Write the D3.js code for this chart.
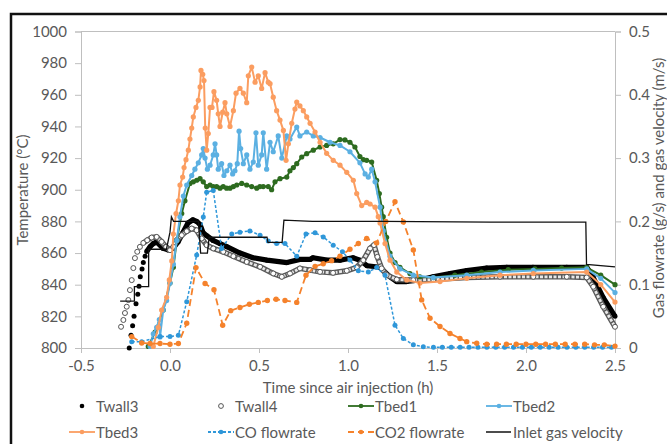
<!DOCTYPE html>
<html><head><meta charset="utf-8">
<script src="https://cdn.jsdelivr.net/npm/d3@7"></script>
<style>
body{margin:0;background:#fff}
svg text{font-family:Lato,"Open Sans",sans-serif;fill:#595959}
</style></head><body>
<svg id="chart" width="667" height="444"></svg>
<script>
// Time since air injection (h) vs temperature (°C) / flow (g/s, m/s)
const timeTicks = [-0.5, 0, 0.5, 1, 1.5, 2, 2.5];
const tempTicks = [800, 820, 840, 860, 880, 900, 920, 940, 960, 980, 1000];
const flowTicks = [0, 0.1, 0.2, 0.3, 0.4, 0.5];

const twall3 = [[-0.229,800],[-0.219,808],[-0.210,814],[-0.202,820],[-0.191,828],[-0.181,834],[-0.174,839],[-0.167,845],[-0.157,850],[-0.150,854],[-0.140,858],[-0.131,861],[-0.112,864],[-0.094,866],[-0.075,867],[-0.039,863],[-0.011,862],[0.017,863],[0.045,867],[0.073,873],[0.101,879],[0.129,881],[0.150,880],[0.169,878],[0.185,873],[0.206,871],[0.242,868],[0.281,866],[0.319,864],[0.393,860],[0.466,857],[0.545,855.5],[0.657,854],[0.730,856],[0.787,856],[0.803,857],[0.882,855.5],[0.955,855.5],[1.028,857],[1.067,855.5],[1.107,852],[1.180,851],[1.236,845],[1.274,842],[1.330,842],[1.404,843],[1.478,845],[1.573,847],[1.667,849],[1.779,850.5],[1.892,851],[2.039,851],[2.229,851],[2.341,851],[2.376,845],[2.433,832],[2.5,820]];

const twall4 = [[-0.275,813.4],[-0.262,817.7],[-0.253,822.1],[-0.243,826.1],[-0.234,830.3],[-0.225,836.6],[-0.215,842.9],[-0.206,850.5],[-0.197,856.8],[-0.184,860.8],[-0.169,863.9],[-0.150,866.4],[-0.128,868.1],[-0.103,869.8],[-0.075,870.2],[-0.047,867.1],[-0.022,863.9],[0.0,861.8],[0.019,863.9],[0.038,868.1],[0.066,871.3],[0.094,873.8],[0.122,875.5],[0.150,874.4],[0.178,869.2],[0.206,865],[0.243,862.9],[0.299,860.8],[0.356,858],[0.431,854.4],[0.506,851.3],[0.580,847.1],[0.628,845],[0.674,847.1],[0.730,850.3],[0.787,849.2],[0.843,848.1],[0.916,847.5],[0.993,848.8],[1.049,850.9],[1.086,855.5],[1.124,862.9],[1.146,865],[1.165,857.6],[1.189,850.3],[1.217,846.1],[1.274,843.3],[1.367,842.9],[1.479,843.3],[1.667,844.6],[1.854,845],[2.041,845],[2.229,845],[2.341,844.6],[2.378,838.7],[2.434,826.1],[2.5,813.4]];

const tbed1 = [[-0.122,801],[-0.084,810],[-0.038,824],[0.0,841],[0.019,851],[0.038,868],[0.066,885],[0.084,893],[0.112,904],[0.131,905],[0.150,906],[0.169,907],[0.187,905],[0.206,902],[0.225,903],[0.243,902],[0.262,902],[0.281,901],[0.299,902],[0.318,901],[0.337,901],[0.356,902],[0.375,903],[0.403,904],[0.431,903],[0.459,902],[0.487,901],[0.505,902],[0.524,902],[0.552,902],[0.571,900],[0.590,905],[0.618,907],[0.656,908],[0.674,912],[0.693,914],[0.712,916.5],[0.740,920.7],[0.768,922.8],[0.805,925],[0.843,927],[0.880,928],[0.917,929],[0.955,931.7],[0.983,931.5],[1.011,930],[1.039,927],[1.067,921],[1.086,919],[1.105,918.6],[1.133,917.5],[1.161,906],[1.176,897.6],[1.189,889],[1.198,883],[1.217,870],[1.236,860],[1.264,854],[1.292,851],[1.348,847],[1.404,845],[1.48,844.5],[1.6,846],[1.75,848],[1.9,849.5],[2.05,850],[2.2,850.5],[2.34,851],[2.42,846],[2.5,840]];

const tbed2 = [[-0.112,801],[-0.094,809],[-0.075,813],[-0.060,818],[-0.056,807],[-0.038,824],[-0.019,830],[0.0,841],[0.019,853],[0.038,868],[0.056,883],[0.075,896],[0.094,903],[0.122,909],[0.140,913],[0.159,917],[0.178,922],[0.187,926],[0.197,920],[0.210,913],[0.225,915.5],[0.243,922],[0.253,929],[0.262,922],[0.271,913],[0.290,916.5],[0.303,909],[0.319,912],[0.337,915.5],[0.352,910],[0.365,912],[0.378,916.5],[0.388,937],[0.397,926],[0.412,916.5],[0.431,922],[0.449,913],[0.468,917.5],[0.483,936],[0.496,915.5],[0.515,922],[0.524,936],[0.543,913],[0.562,930],[0.580,924],[0.608,934],[0.628,920],[0.656,934],[0.674,932],[0.712,939.6],[0.730,934],[0.768,936.5],[0.805,934],[0.843,933],[0.899,930],[0.955,928],[1.011,924],[1.067,917],[1.096,910],[1.114,908],[1.133,913],[1.152,905],[1.180,889],[1.198,874],[1.236,858],[1.292,850],[1.367,846],[1.479,844.5],[1.667,846],[1.854,848],[2.041,849],[2.341,850],[2.42,844],[2.5,835]];

const tbed3 = [[-0.094,801],[-0.066,813],[-0.047,824],[-0.019,832],[-0.004,843],[0.010,855],[0.019,872],[0.034,885],[0.047,893],[0.056,903],[0.071,908],[0.079,914],[0.090,919],[0.103,925],[0.112,932],[0.122,939],[0.131,946],[0.146,952],[0.159,956.5],[0.169,965],[0.174,975.4],[0.184,973],[0.191,969],[0.198,939],[0.206,925],[0.215,935.5],[0.225,952],[0.236,952],[0.247,962],[0.262,956.5],[0.271,948],[0.281,940],[0.296,949],[0.309,955],[0.319,948],[0.337,940],[0.356,950],[0.371,961],[0.393,964],[0.412,961],[0.431,955],[0.440,972],[0.459,977.5],[0.478,968],[0.496,972],[0.515,964],[0.534,974],[0.552,968],[0.562,967],[0.580,958.5],[0.599,950],[0.618,944],[0.637,937.5],[0.652,918.6],[0.665,929],[0.684,942],[0.702,951],[0.712,955.4],[0.730,953],[0.749,950],[0.768,946],[0.787,942],[0.815,936.5],[0.843,930],[0.880,923],[0.917,918.6],[0.955,915.5],[0.993,911],[1.030,906],[1.049,897.6],[1.077,890],[1.105,892],[1.124,891],[1.152,889],[1.170,883],[1.180,879],[1.208,866],[1.236,855.5],[1.274,848],[1.330,843],[1.404,841],[1.517,842],[1.667,844],[1.854,846],[2.041,847],[2.341,848],[2.42,840],[2.5,829]];

const coFlow = [[-0.215,0.010],[-0.159,0.010],[-0.056,0.018],[0.0,0.018],[0.047,0.020],[0.094,0.073],[0.150,0.147],[0.187,0.207],[0.206,0.246],[0.243,0.249],[0.290,0.157],[0.347,0.180],[0.393,0.183],[0.449,0.185],[0.506,0.178],[0.552,0.169],[0.599,0.165],[0.646,0.165],[0.712,0.145],[0.764,0.180],[0.815,0.182],[0.861,0.1755],[0.917,0.1625],[0.969,0.152],[1.011,0.139],[1.058,0.122],[1.114,0.120],[1.161,0.127],[1.208,0.115],[1.264,0.036],[1.311,0.015],[1.367,0.005],[1.423,0.002],[1.48,0.001],[1.53,0.001],[1.58,0.001],[1.63,0.001],[1.68,0.001],[1.73,0.001],[1.78,0.001],[1.83,0.001],[1.88,0.001],[1.93,0.001],[1.98,0.001],[2.03,0.001],[2.08,0.001],[2.13,0.001],[2.18,0.001],[2.23,0.001],[2.28,0.001],[2.33,0.001],[2.38,0.001],[2.43,0.001],[2.48,0.001]];

const co2Flow = [[-0.215,0.018],[-0.159,0.008],[-0.112,0.007],[-0.056,0.007],[0.0,0.006],[0.047,0.007],[0.094,0.039],[0.146,0.127],[0.197,0.102],[0.247,0.092],[0.296,0.036],[0.341,0.059],[0.393,0.064],[0.446,0.069],[0.496,0.072],[0.547,0.075],[0.596,0.077],[0.646,0.075],[0.712,0.072],[0.764,0.115],[0.815,0.129],[0.861,0.133],[0.908,0.138],[0.955,0.145],[1.011,0.156],[1.058,0.165],[1.105,0.173],[1.161,0.166],[1.212,0.200],[1.264,0.231],[1.311,0.199],[1.367,0.155],[1.414,0.076],[1.461,0.047],[1.517,0.034],[1.573,0.023],[1.629,0.015],[1.667,0.010],[1.723,0.0075],[1.78,0.006],[1.835,0.006],[1.89,0.006],[1.945,0.006],[2.0,0.006],[2.055,0.006],[2.11,0.006],[2.165,0.006],[2.22,0.006],[2.275,0.006],[2.33,0.006],[2.385,0.005],[2.44,0.005],[2.5,0.003]];

const inletVelocity = [[-0.28,0.074],[-0.20,0.074],[-0.20,0.097],[-0.12,0.097],[-0.12,0.156],[-0.02,0.156],[0.0,0.183],[0.008,0.207],[0.02,0.200],[0.16,0.200],[0.172,0.150],[0.21,0.150],[0.22,0.175],[0.545,0.175],[0.55,0.167],[0.63,0.167],[0.64,0.202],[0.8,0.200],[1.2,0.200],[1.8,0.199],[2.336,0.199],[2.34,0.132],[2.5,0.128]];

const legendItems = [
  {name:"Twall3", kind:"dot", row:0, col:0},
  {name:"Twall4", kind:"ring", row:0, col:1},
  {name:"Tbed1", kind:"tbed1", row:0, col:2},
  {name:"Tbed2", kind:"tbed2", row:0, col:3},
  {name:"Tbed3", kind:"tbed3", row:1, col:0},
  {name:"CO flowrate", kind:"co", row:1, col:1},
  {name:"CO2 flowrate", kind:"co2", row:1, col:2},
  {name:"Inlet gas velocity", kind:"inlet", row:1, col:3}
];

const colors = {tbed1:"#2d6b1f", tbed2:"#5bb0e2", tbed3:"#fb9d60", co:"#2f97d9", co2:"#f5822c"};

const svg = d3.select("#chart");
const x = d3.scaleLinear().domain([-0.5, 2.5]).range([81, 615]);
const yT = d3.scaleLinear().domain([800, 1000]).range([348, 31.5]);
const yF = d3.scaleLinear().domain([0, 0.5]).range([348, 31.5]);
const axisColor = "#bfbfbf";

// outer frame
svg.append("rect").attr("x", 11).attr("y", 14).attr("width", 680).attr("height", 460)
  .attr("fill", "none").attr("stroke", "#111").attr("stroke-width", 2.5);

function styleAxis(g) {
  g.selectAll(".domain").attr("stroke", axisColor).attr("stroke-width", 1);
  g.selectAll(".tick line").attr("stroke", axisColor);
  g.selectAll(".tick text").style("font-size", "15px").attr("fill", "#595959");
}

svg.append("line").attr("x1", 81).attr("x2", 615).attr("y1", yT(1000)).attr("y2", yT(1000))
  .attr("stroke", axisColor);

svg.append("g").attr("transform", "translate(81,0)")
  .call(d3.axisLeft(yT).tickValues(tempTicks).tickSize(6).tickPadding(8).tickFormat(d3.format("d")))
  .call(styleAxis);
svg.append("g").attr("transform", "translate(615,0)")
  .call(d3.axisRight(yF).tickValues(flowTicks).tickSize(6).tickPadding(8).tickFormat(d => d === 0 ? "0" : d.toFixed(1)))
  .call(styleAxis);
svg.append("g").attr("transform", "translate(0,348)")
  .call(d3.axisBottom(x).tickValues(timeTicks).tickSize(5).tickPadding(7).tickFormat(d => d.toFixed(1)))
  .call(styleAxis);

// axis titles
svg.append("text").attr("transform", "translate(22,190) rotate(-90)")
  .attr("text-anchor", "middle").attr("dominant-baseline", "central").style("font-size", "15px")
  .text("Temperature (°C)");
svg.append("text").attr("transform", "translate(658,188) rotate(-90)")
  .attr("text-anchor", "middle").attr("dominant-baseline", "central").style("font-size", "15px")
  .text("Gas flowrate (g/s) and gas velocity (m/s)");
svg.append("text").attr("x", 348).attr("y", 387)
  .attr("text-anchor", "middle").attr("dominant-baseline", "central").style("font-size", "15px")
  .text("Time since air injection (h)");

const lineT = d3.line().x(d => x(d[0])).y(d => yT(d[1]));
const lineF = d3.line().x(d => x(d[0])).y(d => yF(d[1]));
const plot = svg.append("g");

// Twall3: dense filled markers
plot.append("path").datum(twall3.filter(d => d[0] >= -0.135)).attr("d", lineT)
  .attr("fill", "none").attr("stroke", "#000").attr("stroke-width", 5.2).attr("stroke-linejoin", "round");
plot.append("g").selectAll("circle").data(twall3).join("circle")
  .attr("cx", d => x(d[0])).attr("cy", d => yT(d[1])).attr("r", 2.5).attr("fill", "#000");

// Twall4: dense hollow markers
const tw4Band = twall4.filter(d => d[0] >= -0.16);
plot.append("path").datum(tw4Band).attr("d", lineT)
  .attr("fill", "none").attr("stroke", "#5a5a5a").attr("stroke-width", 5.5).attr("stroke-linejoin", "round");
plot.append("path").datum(tw4Band).attr("d", lineT)
  .attr("fill", "none").attr("stroke", "#e8e8e8").attr("stroke-width", 2.8).attr("stroke-linejoin", "round")
  .attr("stroke-dasharray", "3,1.5");
plot.append("g").selectAll("circle").data(twall4).join("circle")
  .attr("cx", d => x(d[0])).attr("cy", d => yT(d[1])).attr("r", 2.5)
  .attr("fill", "#fff").attr("stroke", "#555").attr("stroke-width", 1);

// bed temperatures
[[tbed1, colors.tbed1], [tbed2, colors.tbed2], [tbed3, colors.tbed3]].forEach(([data, c]) => {
  plot.append("path").datum(data).attr("d", lineT)
    .attr("fill", "none").attr("stroke", c).attr("stroke-width", 2).attr("stroke-linejoin", "round");
  plot.append("g").selectAll("circle").data(data).join("circle")
    .attr("cx", d => x(d[0])).attr("cy", d => yT(d[1])).attr("r", 2.6).attr("fill", c);
});

// gas flows
plot.append("path").datum(coFlow).attr("d", lineF)
  .attr("fill", "none").attr("stroke", colors.co).attr("stroke-width", 1.5).attr("stroke-dasharray", "3,2");
plot.append("g").selectAll("circle").data(coFlow).join("circle")
  .attr("cx", d => x(d[0])).attr("cy", d => yF(d[1])).attr("r", 2.5).attr("fill", colors.co);

plot.append("path").datum(co2Flow).attr("d", lineF)
  .attr("fill", "none").attr("stroke", colors.co2).attr("stroke-width", 1.8).attr("stroke-dasharray", "7,4");
plot.append("g").selectAll("circle").data(co2Flow).join("circle")
  .attr("cx", d => x(d[0])).attr("cy", d => yF(d[1])).attr("r", 2.7).attr("fill", colors.co2);

plot.append("path").datum(inletVelocity).attr("d", lineF)
  .attr("fill", "none").attr("stroke", "#111").attr("stroke-width", 1.3);

// legend
const colX = [96, 235, 375, 513];
const rowY = [406, 432];
const leg = svg.append("g");
legendItems.forEach(it => {
  const tx = colX[it.col], ty = rowY[it.row];
  const g = leg.append("g");
  if (it.kind === "dot") {
    g.append("circle").attr("cx", tx - 14).attr("cy", ty).attr("r", 2.3).attr("fill", "#000");
  } else if (it.kind === "ring") {
    g.append("circle").attr("cx", tx - 14).attr("cy", ty).attr("r", 2.4).attr("fill", "#fff").attr("stroke", "#555");
  } else if (it.kind === "inlet") {
    g.append("line").attr("x1", tx - 27).attr("x2", tx - 2).attr("y1", ty).attr("y2", ty)
      .attr("stroke", "#111").attr("stroke-width", 1.5);
  } else {
    const c = colors[it.kind];
    const dash = it.kind === "co" ? "3,2" : it.kind === "co2" ? "6,4" : null;
    g.append("line").attr("x1", tx - 27).attr("x2", tx - 1).attr("y1", ty).attr("y2", ty)
      .attr("stroke", c).attr("stroke-width", 1.8).attr("stroke-dasharray", dash);
    g.append("circle").attr("cx", tx - 14).attr("cy", ty).attr("r", 2.3).attr("fill", c);
  }
  g.append("text").attr("x", tx).attr("y", ty).attr("dominant-baseline", "central")
    .style("font-size", "15px").text(it.name);
});
</script>
</body></html>
